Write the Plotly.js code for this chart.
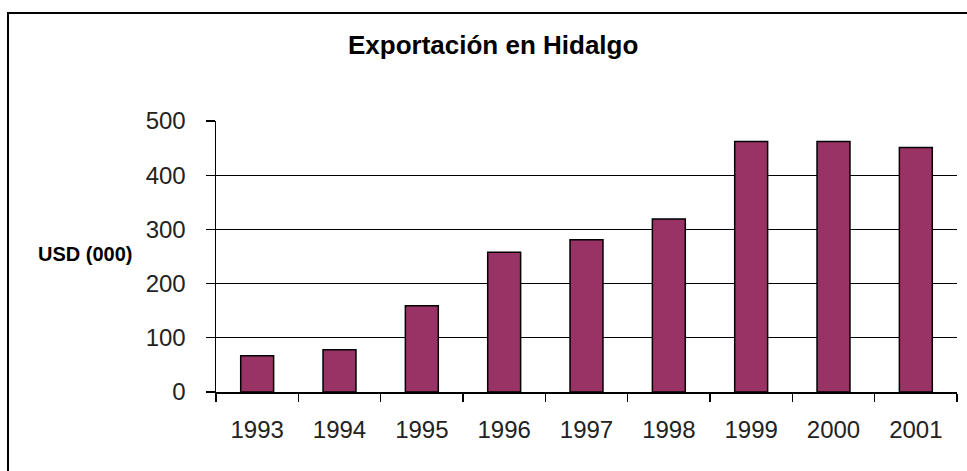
<!DOCTYPE html>
<html>
<head>
<meta charset="utf-8">
<script src="https://cdn.plot.ly/plotly-3.0.1.min.js"></script>
<style>
html,body{margin:0;padding:0;background:#fff;}
#wrap{position:relative;width:967px;height:471px;overflow:hidden;}
#chart{width:967px;height:471px;}
#frame{position:absolute;left:7px;top:12px;width:1100px;height:700px;border:2px solid #000;pointer-events:none;}
</style>
</head>
<body>
<div id="wrap"><div id="chart"></div><div id="frame"></div></div>
<script>
const years = ['1993','1994','1995','1996','1997','1998','1999','2000','2001'];
const exportsUSD = [67, 78, 159, 258, 281, 319, 462, 462, 451];
const yTicks = [0, 100, 200, 300, 400, 500];
const gridTicks = [100, 200, 300, 400];
const titleText = 'Exportación en Hidalgo';
const yLabel = 'USD (000)';

const trace = {
  type: 'bar',
  x: years,
  y: exportsUSD,
  marker: {color: '#993366', line: {color: '#000', width: 1.5}},
  hoverinfo: 'x+y'
};
// invisible trace to activate the grid axis
const gridTrace = {
  type: 'scatter', x: [years[0]], y: [0], yaxis: 'y2',
  mode: 'markers', marker: {opacity: 0}, hoverinfo: 'skip', showlegend: false
};

const layout = {
  width: 967, height: 471,
  margin: {l: 216, r: 10, t: 121, b: 79, pad: 0},
  paper_bgcolor: '#fff', plot_bgcolor: '#fff',
  showlegend: false,
  bargap: 0.6,
  font: {family: 'Liberation Sans, Arial, sans-serif', color: '#222'},
  title: {
    text: titleText,
    font: {family: 'Liberation Sans, Arial, sans-serif', size: 26, color: '#000', weight: 'bold'},
    x: 0.51, xanchor: 'center', y: 0.904, yanchor: 'middle', xref: 'container', yref: 'container'
  },
  xaxis: {
    type: 'category',
    showline: true, linecolor: '#000', linewidth: 1.5,
    ticks: 'outside', tickson: 'boundaries', ticklen: 8, tickcolor: '#000', tickwidth: 1.5,
    ticklabelstandoff: 16,
    tickfont: {size: 24, color: '#222'},
    showgrid: false, zeroline: false, fixedrange: true
  },
  yaxis: {
    range: [0, 500],
    tickvals: yTicks, ticktext: yTicks.map(String),
    showline: true, linecolor: '#000', linewidth: 1.5,
    ticks: 'outside', ticklen: 9, tickcolor: '#000', tickwidth: 1.2,
    ticklabelstandoff: 15,
    tickfont: {size: 24, color: '#222'},
    showgrid: false, zeroline: false, fixedrange: true
  },
  yaxis2: {
    overlaying: 'y', range: [0, 500],
    tickvals: gridTicks, showticklabels: false, ticks: '',
    showgrid: true, gridcolor: '#000', gridwidth: 1.2,
    showline: false, zeroline: false, fixedrange: true
  },
  annotations: [{
    text: yLabel, xref: 'paper', yref: 'paper',
    x: -0.177, y: 0.508, xanchor: 'center', yanchor: 'middle', showarrow: false,
    font: {family: 'Liberation Sans, Arial, sans-serif', size: 20, color: '#000', weight: 'bold'}
  }]
};

Plotly.newPlot('chart', [trace, gridTrace], layout, {displayModeBar: false, staticPlot: true});
</script>
</body>
</html>
